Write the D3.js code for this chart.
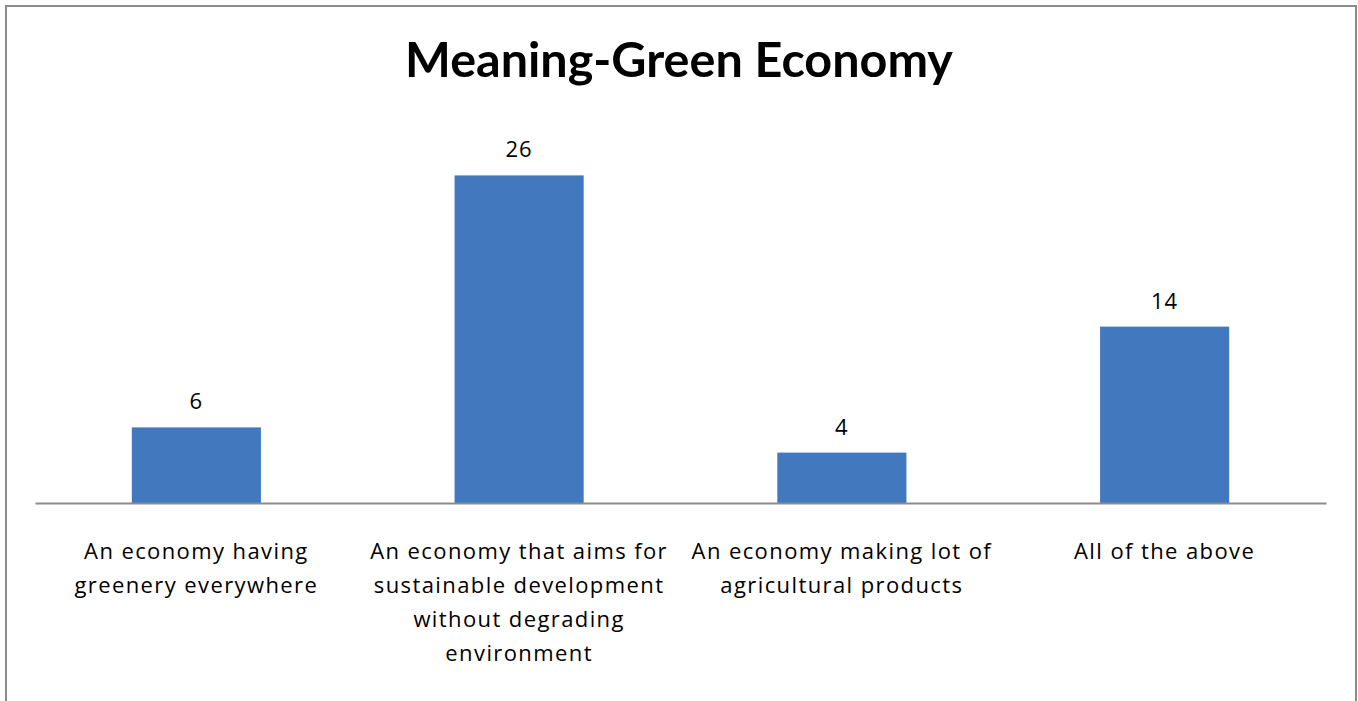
<!DOCTYPE html>
<html>
<head>
<meta charset="utf-8">
<script src="https://cdn.jsdelivr.net/npm/d3@7"></script>
<style>
  body { margin: 0; background: #fff; }
  svg { display: block; }
</style>
</head>
<body>
<svg id="chart"></svg>
<script>
// data
var categories = [
    "An economy having greenery everywhere",
    "An economy that aims for sustainable development without degrading environment",
    "An economy making lot of agricultural products",
    "All of the above"
]
var labelLines = [
    ["An economy having", "greenery everywhere"],
    ["An economy that aims for", "sustainable development", "without degrading", "environment"],
    ["An economy making lot of", "agricultural products"],
    ["All of the above"]
]
var values = [6, 26, 4, 14]

var dimensions = { width: 1358, height: 701 }
var baseY = 503

var svg = d3.select("#chart")
    .attr("width", dimensions.width)
    .attr("height", dimensions.height)

// outer frame (bottom edge runs off the picture)
svg.append("rect")
    .attr("x", 6).attr("y", 6)
    .attr("width", 1350).attr("height", 710)
    .attr("fill", "none")
    .attr("stroke", "#8c8c8c")
    .attr("stroke-width", 2)

svg.append("text")
    .attr("x", 679).attr("y", 77)
    .attr("text-anchor", "middle")
    .style("font-family", "Lato, 'Open Sans', sans-serif")
    .style("font-weight", "bold")
    .style("font-size", "48.5px")
    .attr("fill", "#000")
    .text("Meaning-Green Economy")

var xScale = d3.scaleBand()
    .domain(categories)
    .range([35, 1326])
    .paddingInner(0.6)
    .paddingOuter(0.3)

var yScale = d3.scaleLinear()
    .domain([0, 30])
    .range([baseY, baseY - 378])

svg.selectAll("rect.bar")
    .data(values)
    .join("rect")
    .attr("class", "bar")
    .attr("x", (d, i) => xScale(categories[i]))
    .attr("y", d => yScale(d))
    .attr("width", xScale.bandwidth())
    .attr("height", d => yScale(0) - yScale(d))
    .attr("fill", "#4178be")

// value labels
svg.selectAll("text.val")
    .data(values)
    .join("text")
    .attr("class", "val")
    .attr("x", (d, i) => xScale(categories[i]) + xScale.bandwidth() / 2)
    .attr("y", d => yScale(d) - 18)
    .attr("text-anchor", "middle")
    .style("font-family", "'Open Sans', sans-serif")
    .style("font-size", "22px")
    .style("letter-spacing", "1px")
    .attr("fill", "#000")
    .text(d => d)

// x axis: just the baseline, no ticks
var xAxis = d3.axisBottom(xScale).tickSize(0).tickFormat("")
var axisG = svg.append("g")
    .attr("transform", "translate(0," + baseY + ")")
    .call(xAxis)
axisG.select(".domain").attr("stroke", "#8c8c8c").attr("stroke-width", 2)

var lab = svg.selectAll("text.cat")
    .data(labelLines)
    .join("text")
    .attr("class", "cat")
    .attr("text-anchor", "middle")
    .style("font-family", "'Open Sans', sans-serif")
    .style("font-size", "22px")
    .style("letter-spacing", "1.4px")
    .attr("fill", "#000")

lab.selectAll("tspan")
    .data((d, i) => d.map(t => ({ t: t, i: i })))
    .join("tspan")
    .attr("x", d => xScale(categories[d.i]) + xScale.bandwidth() / 2)
    .attr("y", (d, j) => 559 + j * 34)
    .text(d => d.t)
</script>
</body>
</html>
